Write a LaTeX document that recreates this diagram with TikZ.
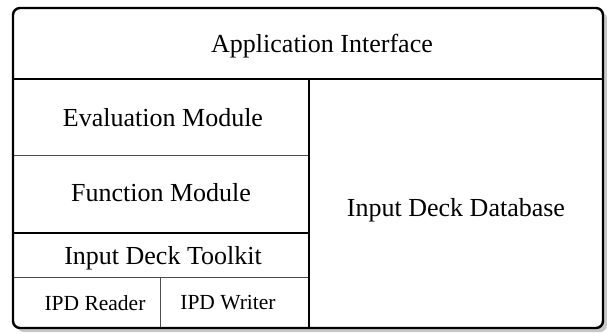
\documentclass[tikz,border=0pt]{standalone}
\usepackage{fontspec}
\setmainfont{Liberation Serif}
\begin{document}
\begin{tikzpicture}[x=1pt,y=-1pt,
  thick line/.style={line width=2.4pt,black},
  thin line/.style={line width=0.8pt,black!70},
  lbl/.style={font=\fontsize{26}{30}\selectfont,inner sep=0pt},
  slbl/.style={font=\fontsize{21.5}{25}\selectfont,inner sep=0pt}]
\useasboundingbox (0,0) rectangle (607,334);
% shadow
\fill[black!22,rounded corners=7pt] (17,12) rectangle (607,332);
\fill[white,rounded corners=7pt] (13,8) rectangle (603,328);
% inner lines
\draw[thin line] (13,155) -- (309,155);
\draw[thin line] (13,277) -- (309,277);
\draw[thin line] (160,277) -- (160,328);
\draw[thick line] (13,79) -- (603,79);
\draw[thick line] (309,79) -- (309,328);
\draw[thick line] (13,233) -- (309,233);
\draw[thick line,rounded corners=7pt] (13,8) rectangle (603,328);
% labels
\node[lbl] (app) at (322,46) {Application Interface};
\node[lbl] (eval) at (163,118) {Evaluation Module};
\node[lbl] (func) at (161,193) {Function Module};
\node[lbl] (idt) at (163,258) {Input Deck Toolkit};
\node[slbl] (rd) at (95,303) {IPD Reader};
\node[slbl] (wr) at (228,303) {IPD Writer};
\node[lbl] (db) at (456,210) {Input Deck Database};
\end{tikzpicture}
\end{document}
